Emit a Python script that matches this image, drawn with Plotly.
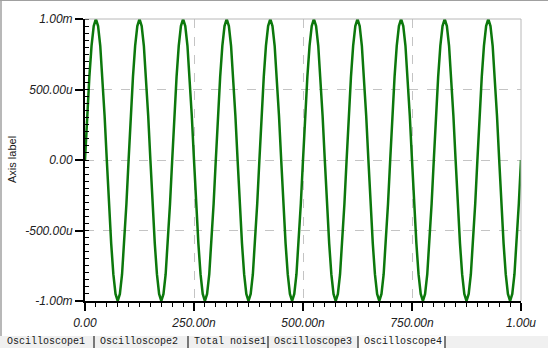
import plotly.graph_objects as go

# ---- data ----
period_samples_mV = [0.0, 0.31, 0.59, 0.81, 0.95, 1.0, 0.95, 0.81, 0.59, 0.31,
                     0.0, -0.31, -0.59, -0.81, -0.95, -1.0, -0.95, -0.81, -0.59, -0.31]
n_cycles = 10
period_s = 100e-9

x_tick_vals = [0.0, 250e-9, 500e-9, 750e-9, 1e-6]
x_tick_text = ["0.00", "250.00n", "500.00n", "750.00n", "1.00u"]
y_tick_vals = [-1e-3, -5e-4, 0.0, 5e-4, 1e-3]
y_tick_text = ["-1.00m", "-500.00u", "0.00", "500.00u", "1.00m"]
tab_names = ["Oscilloscope1", "Oscilloscope2", "Total noise1", "Oscilloscope3", "Oscilloscope4"]
y_title = "Axis label"

# build the series by repeating the read cycle
ns = len(period_samples_mV)
t, v = [], []
for c in range(n_cycles):
    for i, s in enumerate(period_samples_mV):
        t.append(c * period_s + i * period_s / ns)
        v.append(s * 1e-3)
t.append(n_cycles * period_s)
v.append(period_samples_mV[0] * 1e-3)

W, H = 548, 348
L, R, T, B = 85, 521, 19, 301


def px(xp):
    return (xp - L) / (R - L)


def py(yp):
    return (B - yp) / (B - T)


fig = go.Figure()
fig.add_trace(go.Scatter(x=t, y=v, mode="lines",
                         line=dict(color="#0c780c", width=2.5),
                         hoverinfo="skip", showlegend=False))

tick_font = dict(family="Arial, Liberation Sans", size=12, color="#202020", style="italic")

fig.update_layout(
    width=W, height=H,
    margin=dict(l=L, r=W - R, t=T, b=H - B, pad=0),
    paper_bgcolor="white", plot_bgcolor="white",
    xaxis=dict(range=[0, 1e-6], tickmode="array", tickvals=x_tick_vals, ticktext=x_tick_text,
               showline=True, linecolor="black", linewidth=2, ticks="outside", ticklen=8,
               tickwidth=1.5, tickcolor="black", tickfont=tick_font, ticklabelstandoff=2,
               showgrid=True, gridcolor="#c4c4c4", griddash="dash", gridwidth=1,
               zeroline=False, fixedrange=True,
               minor=dict(tickmode="linear", tick0=0, dtick=25e-9, ticks="outside",
                          ticklen=4, tickwidth=1, tickcolor="black", showgrid=False)),
    yaxis=dict(range=[-1e-3, 1e-3], tickmode="array", tickvals=y_tick_vals, ticktext=y_tick_text,
               showline=True, linecolor="black", linewidth=2, ticks="outside", ticklen=8,
               tickwidth=1.5, tickcolor="black", tickfont=tick_font, ticklabelstandoff=0,
               showgrid=True, gridcolor="#c4c4c4", griddash="dash", gridwidth=1,
               zeroline=False, fixedrange=True,
               minor=dict(tickmode="linear", tick0=0, dtick=5e-5, ticks="inside",
                          ticklen=4, tickwidth=1, tickcolor="black", showgrid=False)),
)

shapes = []
# plot top and right borders
shapes.append(dict(type="line", xref="paper", yref="paper", x0=0, x1=1, y0=1, y1=1,
                   line=dict(color="#b8b8b8", width=1)))
shapes.append(dict(type="line", xref="paper", yref="paper", x0=1, x1=1, y0=0, y1=1,
                   line=dict(color="#b8b8b8", width=1)))
# window frame
shapes.append(dict(type="line", xref="paper", yref="paper", x0=px(0), x1=px(W), y0=py(0.5), y1=py(0.5),
                   line=dict(color="#a0a0a0", width=1)))
shapes.append(dict(type="line", xref="paper", yref="paper", x0=px(1), x1=px(1), y0=py(0), y1=py(336),
                   line=dict(color="#a0a0a0", width=1.5)))
# tab bar
shapes.append(dict(type="rect", xref="paper", yref="paper", x0=px(0), x1=px(W), y0=py(348), y1=py(336),
                   fillcolor="#f0f0f0", line=dict(width=0), layer="below"))
shapes.append(dict(type="rect", xref="paper", yref="paper", x0=px(358), x1=px(445), y0=py(348), y1=py(335),
                   fillcolor="#fafafa", line=dict(width=0), layer="below"))
tab_text_x = [6, 99, 193, 273, 363]
sep_x = [94, 188, 268, 358, 445]
for sx in sep_x:
    shapes.append(dict(type="line", xref="paper", yref="paper", x0=px(sx), x1=px(sx),
                       y0=py(348), y1=py(336), line=dict(color="#505050", width=1.5)))
fig.update_layout(shapes=shapes)

ann = []
for name, tx in zip(tab_names, tab_text_x):
    ann.append(dict(text=name, xref="paper", yref="paper", x=px(tx), y=py(335),
                    xanchor="left", yanchor="top", showarrow=False, borderpad=0,
                    font=dict(family="Liberation Mono, monospace", size=10, color="#202020")))
ann.append(dict(text=y_title, xref="paper", yref="paper", x=px(12), y=py(160),
                xanchor="center", yanchor="middle", textangle=-90, showarrow=False,
                font=dict(family="Arial, Liberation Sans", size=11, color="#202020")))
fig.update_layout(annotations=ann)

fig.write_html("out.html")
